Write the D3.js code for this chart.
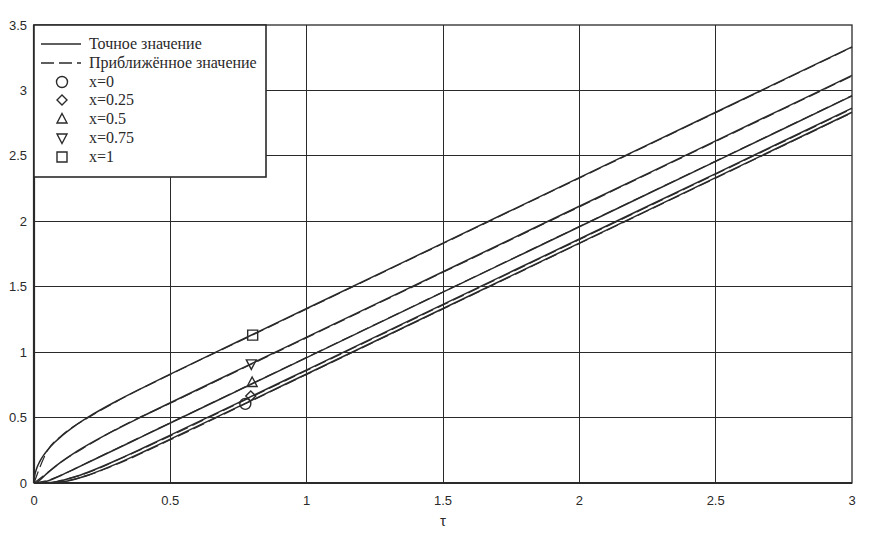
<!DOCTYPE html>
<html>
<head>
<meta charset="utf-8">
<script src="https://cdn.jsdelivr.net/npm/d3@7"></script>
<style>
  body { margin: 0; background: #fff; }
  svg { display: block; }
  .serif { font-family: "Liberation Serif", "DejaVu Serif", "Times New Roman", serif; }
  .sans { font-family: "Liberation Sans", Arial, "DejaVu Sans", sans-serif; }
</style>
</head>
<body>
<div class="plot"></div>
<script>
// DATA
var tauExact = [0, 0.001, 0.002, 0.005, 0.01, 0.02, 0.035, 0.05, 0.075, 0.1, 0.15, 0.2, 0.3, 0.4, 0.5, 0.75, 1, 1.5, 2, 2.5, 3];
var exact0   = [0, 0, 0, 0, 0, 0, 0, 0.0003, 0.0024, 0.0079, 0.0293, 0.0615, 0.1438, 0.2372, 0.3348, 0.5835, 0.8333, 1.3333, 1.8333, 2.3333, 2.8333];
var exact025 = [0, 0, 0, 0, 0, 0, 0.0008, 0.0019, 0.0079, 0.0180, 0.0472, 0.0845, 0.1720, 0.2673, 0.3656, 0.6147, 0.8646, 1.3646, 1.8646, 2.3646, 2.8646];
var exact05  = [0, 0, 0, 0, 0, 0.0012, 0.0059, 0.0154, 0.0360, 0.0593, 0.1085, 0.1584, 0.2583, 0.3583, 0.4583, 0.7083, 0.9583, 1.4583, 1.9583, 2.4583, 2.9583];
var exact075 = [0, 0, 0, 0.0006, 0.0044, 0.0203, 0.0489, 0.0773, 0.1213, 0.1612, 0.2320, 0.2947, 0.4072, 0.5118, 0.6136, 0.8645, 1.1146, 1.6146, 2.1146, 2.6146, 3.1146];
var exact1   = [0, 0.0357, 0.0505, 0.0798, 0.1128, 0.1596, 0.2111, 0.2523, 0.3090, 0.3568, 0.4371, 0.5052, 0.6228, 0.7294, 0.8319, 1.0832, 1.3333, 1.8333, 2.3333, 2.8333, 3.3333];

var tauApprox = [0, 0.05, 0.1, 0.2, 0.3, 0.5, 0.75, 1, 1.5, 2, 2.5, 3];
var approx0   = [0, 0, 0.01, 0.06, 0.14, 0.33, 0.58, 0.83, 1.33, 1.83, 2.33, 2.83];
var approx025 = [0, 0, 0.02, 0.08, 0.17, 0.36, 0.61, 0.86, 1.36, 1.86, 2.36, 2.86];
var approx05  = [0, 0.02, 0.06, 0.16, 0.26, 0.46, 0.71, 0.96, 1.46, 1.96, 2.46, 2.96];
var approx075 = [0, 0.08, 0.16, 0.29, 0.41, 0.61, 0.86, 1.11, 1.61, 2.11, 2.61, 3.11];
var approx1   = [0, 0.25, 0.36, 0.50, 0.62, 0.83, 1.08, 1.33, 1.83, 2.33, 2.83, 3.33];

var seriesNames = ["x=0", "x=0.25", "x=0.5", "x=0.75", "x=1"];
var markerTau = [0.775, 0.795, 0.80, 0.797, 0.802];
var markerU   = [0.605, 0.665, 0.768, 0.91, 1.13];
var markerShapes = ["circle", "diamond", "triangle", "invTriangle", "square"];

var xTicks = [0, 0.5, 1, 1.5, 2, 2.5, 3];
var yTicks = [0, 0.5, 1, 1.5, 2, 2.5, 3, 3.5];
var legendLabels = ["Точное значение", "Приближённое значение"];

// LAYOUT
var w = 872, h = 538;
var margin = {top: 25, right: 20, bottom: 55, left: 34};
var ink = "#2a2a2a";

var svg = d3.select(".plot").append("svg").attr("width", w).attr("height", h);

var xScale = d3.scaleLinear().domain([0, 3]).range([margin.left, w - margin.right]);
var yScale = d3.scaleLinear().domain([0, 3.5]).range([h - margin.bottom, margin.top]);

// GRID
svg.append("g").selectAll("line").data(xTicks.slice(1, -1)).enter().append("line")
  .attr("x1", function (d) { return xScale(d); }).attr("x2", function (d) { return xScale(d); })
  .attr("y1", yScale(0)).attr("y2", yScale(3.5))
  .attr("stroke", ink).attr("stroke-width", 1).attr("shape-rendering", "crispEdges");
svg.append("g").selectAll("line").data(yTicks.slice(1, -1)).enter().append("line")
  .attr("x1", xScale(0)).attr("x2", xScale(3))
  .attr("y1", function (d) { return yScale(d); }).attr("y2", function (d) { return yScale(d); })
  .attr("stroke", ink).attr("stroke-width", 1).attr("shape-rendering", "crispEdges");

// FRAME
svg.append("rect")
  .attr("x", xScale(0)).attr("y", yScale(3.5))
  .attr("width", xScale(3) - xScale(0)).attr("height", yScale(0) - yScale(3.5))
  .attr("fill", "none").attr("stroke", ink).attr("stroke-width", 1.3);

// CURVES
var exactSets = [exact0, exact025, exact05, exact075, exact1];
var approxSets = [approx0, approx025, approx05, approx075, approx1];

var line = d3.line()
  .x(function (d) { return xScale(d[0]); })
  .y(function (d) { return yScale(d[1]); })
  .curve(d3.curveMonotoneX);

exactSets.forEach(function (vals) {
  svg.append("path")
    .datum(tauExact.map(function (t, i) { return [t, vals[i]]; }))
    .attr("d", line)
    .attr("fill", "none").attr("stroke", ink).attr("stroke-width", 1.5);
});
approxSets.forEach(function (vals) {
  svg.append("path")
    .datum(tauApprox.map(function (t, i) { return [t, vals[i]]; }))
    .attr("d", line)
    .attr("fill", "none").attr("stroke", ink).attr("stroke-width", 1.2)
    .attr("stroke-dasharray", "12,5");
});

// AXES (thick left and bottom)
svg.append("line")
  .attr("x1", xScale(0)).attr("x2", xScale(0)).attr("y1", yScale(3.5)).attr("y2", yScale(0))
  .attr("stroke", ink).attr("stroke-width", 2.2);
svg.append("line")
  .attr("x1", xScale(0)).attr("x2", xScale(3)).attr("y1", yScale(0)).attr("y2", yScale(0))
  .attr("stroke", ink).attr("stroke-width", 2);

// TICK LABELS
svg.append("g").selectAll("text").data(yTicks).enter().append("text")
  .attr("class", "sans")
  .attr("x", xScale(0) - 7).attr("y", function (d) { return yScale(d); })
  .attr("dy", "0.35em").attr("text-anchor", "end")
  .attr("font-size", "13px").attr("fill", ink)
  .text(function (d) { return d; });
svg.append("g").selectAll("text").data(xTicks).enter().append("text")
  .attr("class", "sans")
  .attr("x", function (d) { return xScale(d); }).attr("y", yScale(0) + 17)
  .attr("dy", "0.35em").attr("text-anchor", "middle")
  .attr("font-size", "13px").attr("fill", ink)
  .text(function (d) { return d; });
svg.append("text")
  .attr("class", "sans")
  .attr("x", xScale(1.5)).attr("y", yScale(0) + 38)
  .attr("dy", "0.35em").attr("text-anchor", "middle")
  .attr("font-size", "15px").attr("fill", ink)
  .text("τ");

// MARKERS
function symbolFor(shape) {
  if (shape === "circle") return d3.symbol().type(d3.symbolCircle).size(95)();
  if (shape === "diamond") return "M0,-5L5,0L0,5L-5,0Z";
  if (shape === "triangle") return "M0,-5.5L5,4L-5,4Z";
  if (shape === "invTriangle") return "M0,5.5L5,-4L-5,-4Z";
  return "M-5,-5H5V5H-5Z";
}
svg.append("g").selectAll("path").data(markerShapes).enter().append("path")
  .attr("transform", function (d, i) { return "translate(" + xScale(markerTau[i]) + "," + yScale(markerU[i]) + ")"; })
  .attr("d", function (d) { return symbolFor(d); })
  .attr("fill", "none").attr("stroke", ink).attr("stroke-width", 1.4);

// LEGEND
var lx = xScale(0), ly = yScale(3.5);
var legend = svg.append("g");
legend.append("rect")
  .attr("x", lx).attr("y", ly).attr("width", 232).attr("height", 152)
  .attr("fill", "#fff").attr("stroke", ink).attr("stroke-width", 1.6);
var rowY = [44, 63, 82, 100, 119, 138, 157];

legend.append("line").attr("x1", 41).attr("x2", 81).attr("y1", rowY[0]).attr("y2", rowY[0])
  .attr("stroke", ink).attr("stroke-width", 1.4);
legend.append("line").attr("x1", 41).attr("x2", 81).attr("y1", rowY[1]).attr("y2", rowY[1])
  .attr("stroke", ink).attr("stroke-width", 1.4).attr("stroke-dasharray", "13,5");
legendLabels.forEach(function (t, i) {
  legend.append("text").attr("class", "serif").attr("x", 89).attr("y", rowY[i]).attr("dy", "0.33em")
    .attr("font-size", "16px").attr("fill", ink).text(t);
});
seriesNames.forEach(function (t, i) {
  legend.append("path")
    .attr("transform", "translate(62," + rowY[i + 2] + ")")
    .attr("d", symbolFor(markerShapes[i]))
    .attr("fill", "none").attr("stroke", ink).attr("stroke-width", 1.4);
  legend.append("text").attr("class", "serif").attr("x", 89).attr("y", rowY[i + 2]).attr("dy", "0.33em")
    .attr("font-size", "16px").attr("fill", ink).text(t);
});
</script>
</body>
</html>
